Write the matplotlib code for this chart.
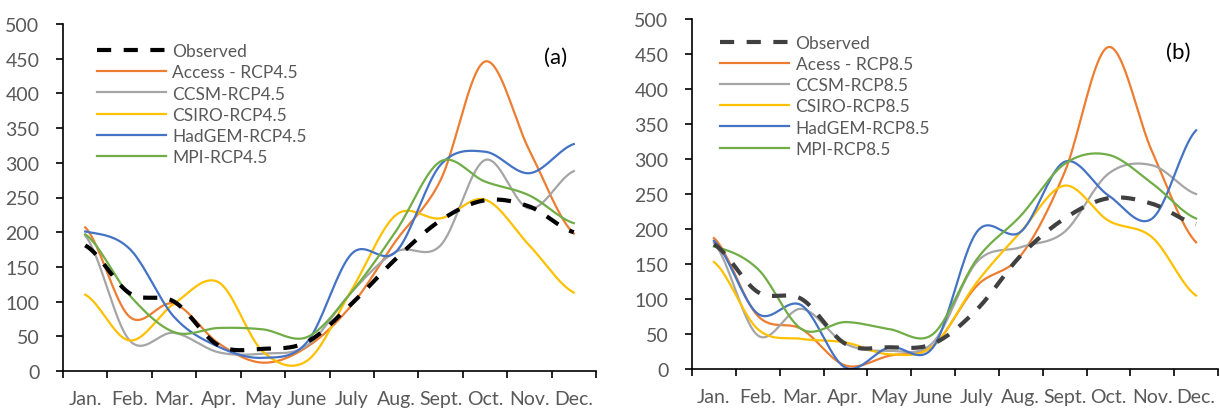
"""
Monthly values, observed vs. GCM projections under RCP4.5 (a) and RCP8.5 (b).
"""
import numpy as np
import matplotlib
matplotlib.use("Agg")
import matplotlib.pyplot as plt

plt.rcParams['font.family'] = ['Lato', 'DejaVu Sans']

months = ["Jan.", "Feb.", "Mar.", "Apr.", "May", "June", "July",
          "Aug.", "Sept.", "Oct.", "Nov.", "Dec."]

# Panel (a): RCP4.5
obs_a = [181, 112, 100, 37, 32, 42, 97, 162, 217, 246, 237, 200]
access_a = [207, 78, 97, 40, 12, 35, 95, 188, 275, 446, 318, 198]
ccsm_a = [195, 44, 55, 27, 25, 37, 114, 172, 181, 304, 234, 288]
csiro_a = [110, 44, 97, 128, 28, 15, 117, 225, 220, 247, 181, 113]
hadgem_a = [201, 176, 78, 35, 19, 42, 169, 172, 297, 316, 285, 327]
mpi_a = [197, 109, 56, 62, 60, 49, 114, 202, 302, 273, 253, 213]

# Panel (b): RCP8.5
obs_b = [178, 110, 100, 36, 31, 36, 85, 162, 215, 244, 236, 207]
access_b = [187, 76, 57, 5, 19, 33, 119, 162, 281, 460, 310, 181]
ccsm_b = [180, 48, 86, 36, 26, 38, 153, 174, 196, 279, 291, 250]
csiro_b = [153, 57, 43, 38, 21, 33, 124, 196, 262, 212, 188, 105]
hadgem_b = [183, 79, 91, 2, 31, 31, 196, 196, 296, 248, 215, 341]
mpi_b = [175, 143, 57, 67, 57, 50, 157, 219, 293, 306, 265, 215]

labels_a = ["Observed", "Access - RCP4.5", "CCSM-RCP4.5", "CSIRO-RCP4.5",
            "HadGEM-RCP4.5", "MPI-RCP4.5"]
labels_b = ["Observed", "Acess - RCP8.5", "CCSM-RCP8.5", "CSIRO-RCP8.5",
            "HadGEM-RCP8.5", "MPI-RCP8.5"]

colors = ["#ED7D31", "#A5A5A5", "#FFC000", "#4472C4", "#70AD47"]
txt_col = "#595959"


def smooth(y, n=20):
    """Excel-style smoothed line (Catmull-Rom through the points)."""
    y = np.asarray(y, float)
    x = np.arange(len(y), dtype=float)
    p = np.concatenate(([y[0]], y, [y[-1]]))
    xs, ys = [], []
    for i in range(len(y) - 1):
        p0, p1, p2, p3 = p[i], p[i + 1], p[i + 2], p[i + 3]
        t = np.linspace(0, 1, n, endpoint=False)
        c1 = p1 + (p2 - p0) / 6
        c2 = p2 - (p3 - p1) / 6
        yy = ((1 - t) ** 3 * p1 + 3 * (1 - t) ** 2 * t * c1
              + 3 * (1 - t) * t ** 2 * c2 + t ** 3 * p2)
        xs.append(x[i] + t)
        ys.append(yy)
    xs.append([x[-1]])
    ys.append([y[-1]])
    return np.concatenate(xs), np.concatenate(ys)


def panel(ax, obs, models, labels, obs_color, tag, leg_anchor, tag_pos):
    xo, yo = smooth(obs)
    ax.plot(xo, yo, color=obs_color, lw=3, linestyle=(0, (3.4, 3.0)),
            label=labels[0], zorder=5)
    for m, c, lab in zip(models, colors, labels[1:]):
        xm, ym = smooth(m)
        ax.plot(xm, ym, color=c, lw=1.6, label=lab)
    ax.set_xlim(-0.5, 11.5)
    ax.set_ylim(0, 500)
    ax.set_yticks(np.arange(0, 501, 50))
    ax.set_xticks(np.arange(12))
    ax.set_xticklabels(months)
    ax.set_xticks(np.arange(-0.5, 12, 1), minor=True)
    ax.tick_params(axis='x', which='major', length=0, pad=14,
                   labelsize=14, labelcolor=txt_col)
    ax.tick_params(axis='x', which='minor', length=5, width=1.2,
                   direction='out')
    ax.tick_params(axis='y', length=5, width=1.2, pad=12,
                   labelsize=14, labelcolor=txt_col)
    for s in ['top', 'right']:
        ax.spines[s].set_visible(False)
    for s in ['left', 'bottom']:
        ax.spines[s].set_linewidth(1.2)
    leg = ax.legend(loc='upper left', bbox_to_anchor=leg_anchor,
                    frameon=False, fontsize=12.5, handlelength=4.0,
                    handletextpad=0.35, labelspacing=0.3, borderaxespad=0)
    for t in leg.get_texts():
        t.set_color(txt_col)
    ax.text(tag_pos[0], tag_pos[1], tag, transform=ax.transAxes,
            fontsize=16, ha='center', va='center', color='black')


fig = plt.figure(figsize=(12.2, 4.1), dpi=100)
ax_a = fig.add_axes([63 / 1220, 1 - 372 / 410, (596 - 63) / 1220, (372 - 25) / 410])
ax_b = fig.add_axes([692 / 1220, 1 - 370 / 410, (1218 - 692) / 1220, (370 - 20) / 410])

panel(ax_a, obs_a, [access_a, ccsm_a, csiro_a, hadgem_a, mpi_a], labels_a,
      "black", "(a)", (0.05, 0.965), (0.925, 0.905))
panel(ax_b, obs_b, [access_b, ccsm_b, csiro_b, hadgem_b, mpi_b], labels_b,
      "#404040", "(b)", (0.04, 0.975), (0.925, 0.905))

fig.savefig("out.png", dpi=100)
